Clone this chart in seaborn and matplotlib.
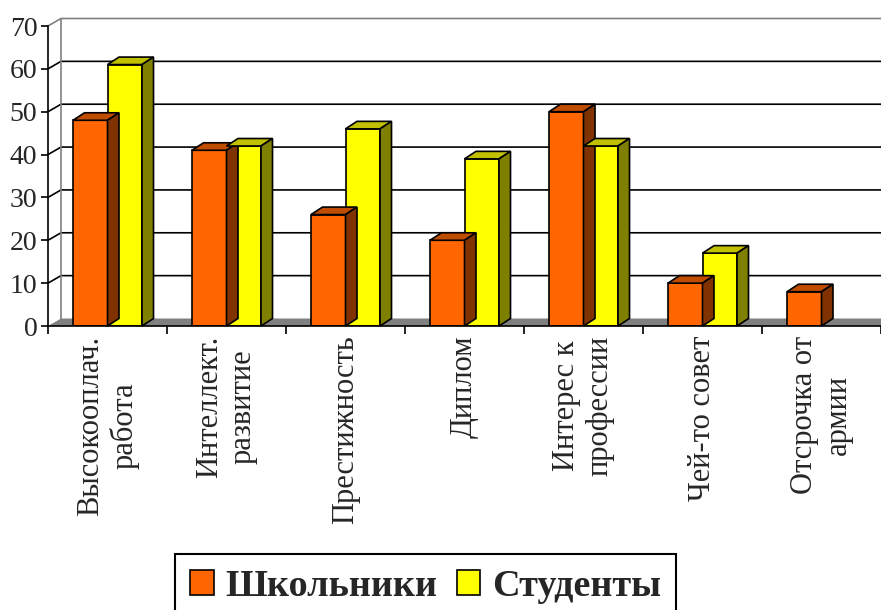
import numpy as np
import pandas as pd
import matplotlib
matplotlib.use("Agg")
import matplotlib.pyplot as plt
from matplotlib.patches import Polygon, Patch
import seaborn as sns

categories = [
    "Высокооплач.\nработа",
    "Интеллект.\nразвитие",
    "Престижность",
    "Диплом",
    "Интерес к\nпрофессии",
    "Чей-то совет",
    "Отсрочка от\nармии",
]
schoolers = [48, 41, 26, 20, 50, 10, 8]
students = [61, 42, 46, 39, 42, 17, 0]
series_names = ["Школьники", "Студенты"]

front_colors = {"Школьники": "#FF6600", "Студенты": "#FFFF00"}
top_colors = {"Школьники": "#C04C00", "Студенты": "#C0C000"}
side_colors = {"Школьники": "#803300", "Студенты": "#808000"}

sns.set_style("white")
plt.rcParams["font.family"] = ["Liberation Serif", "DejaVu Serif"]

df = pd.DataFrame({"cat": categories, "Школьники": schoolers, "Студенты": students})
long_df = df.melt(id_vars="cat", var_name="group", value_name="value")

W, H = 881, 610
fig = plt.figure(figsize=(W / 100, H / 100), dpi=100)
ax = fig.add_axes([48 / W, (H - 326) / H, 833 / W, 300 / H])

sns.barplot(data=long_df, x="cat", y="value", hue="group", hue_order=series_names,
            palette=front_colors, saturation=1, width=0.58, edgecolor="black",
            linewidth=1.2, legend=False, ax=ax, zorder=3)
ax.set_xlim(-0.5, 6.5)
ax.set_ylim(0, 70)

# pixel -> data conversion for the fake 3D depth
px_x = 833 / 7
px_y = 300 / 70
dx = 11.5 / px_x
dy = 7.5 / px_y
wdx = 13 / px_x

# back wall gridlines and side wall
for v in range(10, 70, 10):
    ax.plot([-0.5, -0.5 + wdx, 7.5], [v, v + dy, v + dy], color="black",
            lw=1.2, clip_on=False, zorder=0.5)
ax.plot([-0.5, -0.5 + wdx, 7.5], [70, 70 + dy, 70 + dy], color="#808080",
        lw=1.2, clip_on=False, zorder=0.5)
ax.plot([-0.5 + wdx, -0.5 + wdx], [dy, 70 + dy], color="#808080",
        lw=1.2, clip_on=False, zorder=0.5)

# floor
floor = Polygon([(-0.5, 0), (7.5, 0), (7.5 + wdx, dy), (-0.5 + wdx, dy)],
                closed=True, facecolor="#808080", edgecolor="none",
                clip_on=False, zorder=0.6)
ax.add_patch(floor)

# 3D faces on top of each bar
for name, container in zip(series_names, ax.containers):
    for bar in container.patches:
        x0 = bar.get_x()
        x1 = x0 + bar.get_width()
        h = bar.get_height()
        if h <= 0:
            bar.set_visible(False)
            continue
        top = Polygon([(x0, h), (x1, h), (x1 + dx, h + dy), (x0 + dx, h + dy)],
                      closed=True, facecolor=top_colors[name], edgecolor="black",
                      lw=1.2, clip_on=False, zorder=bar.get_zorder())
        side = Polygon([(x1, 0), (x1, h), (x1 + dx, h + dy), (x1 + dx, dy)],
                       closed=True, facecolor=side_colors[name], edgecolor="black",
                       lw=1.2, clip_on=False, zorder=bar.get_zorder())
        ax.add_patch(top)
        ax.add_patch(side)

# axes styling
for s in ["top", "right"]:
    ax.spines[s].set_visible(False)
for s in ["left", "bottom"]:
    ax.spines[s].set_color("black")
    ax.spines[s].set_linewidth(1.2)
    ax.spines[s].set_zorder(4)

ax.set_yticks(range(0, 71, 10))
ax.tick_params(axis="y", direction="out", length=4.7, width=1.2, color="black",
               labelsize=20, pad=3, left=True)
ax.set_xticks(np.arange(-0.5, 7, 1), labels=[""] * 8)
ax.set_xticks(range(7), labels=categories, minor=True)
ax.tick_params(axis="x", which="major", direction="out", length=5.5, width=1.2,
               color="black", bottom=True)
ax.tick_params(axis="x", which="minor", length=0, pad=7, labelsize=22)
for lab in ax.get_xticklabels(minor=True):
    lab.set_rotation(90)
    lab.set_multialignment("center")
ax.set_xlabel("")
ax.set_ylabel("")
ax.grid(False)

handles = [Patch(facecolor=front_colors[n], edgecolor="black", linewidth=1.2, label=n)
           for n in series_names]
leg = fig.legend(handles=handles, ncol=2, loc="upper left",
                 bbox_to_anchor=(175 / W, 1 - 554 / H), frameon=True, fancybox=False,
                 edgecolor="black", framealpha=1,
                 prop={"family": "Liberation Serif", "weight": "bold", "size": 27.5},
                 handlelength=0.62, handleheight=0.62, handletextpad=0.3,
                 columnspacing=0.5, borderpad=0.4, borderaxespad=0)
leg.get_frame().set_linewidth(1.5)

fig.savefig("out.png", dpi=100)
